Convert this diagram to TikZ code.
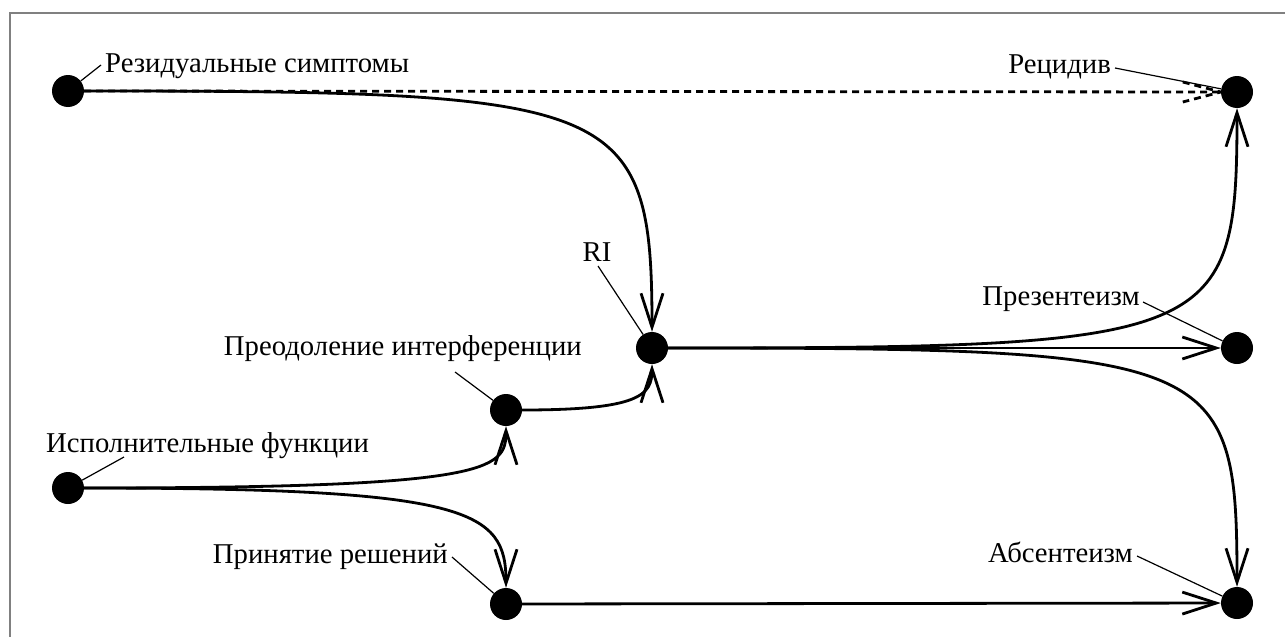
\documentclass[tikz,border=0pt]{standalone}
\usepackage{fontspec}
\setmainfont{Liberation Serif}
\usetikzlibrary{arrows.meta}
\begin{document}
\begin{tikzpicture}[x=1pt,y=-1pt,
  dot/.style={circle,fill=black,inner sep=0pt,minimum size=32pt},
  lbl/.style={font=\fontsize{28.7}{32}\selectfont,inner sep=0pt},
  pinline/.style={line width=1.2pt},
  conn/.style={line width=2.8pt,-{Straight Barb[length=34pt,width=22pt]}},
  frameline/.style={draw=gray,line width=2pt}
]
\useasboundingbox (0,0) rectangle (1285,637);
\draw[frameline] (10,637) -- (10,13) -- (1285,13);

% nodes
\node[dot] (R)   at (68,91) {};
\node[dot] (Rec) at (1237,92) {};
\node[dot] (RI)  at (652,348) {};
\node[dot] (Pr)  at (1237,348) {};
\node[dot] (P)   at (506,410) {};
\node[dot] (E)   at (68,488) {};
\node[dot] (D)   at (506,604) {};
\node[dot] (A)   at (1237,603) {};

% labels
\node[lbl,anchor=base west] (lR)   at (105,72)  {Резидуальные симптомы};
\node[lbl,anchor=base east] (lRec) at (1111,73) {Рецидив};
\node[lbl,anchor=base]      (lRI)  at (597,261) {RI};
\node[lbl,anchor=base east] (lPr)  at (1140,305) {Презентеизм};
\node[lbl,anchor=base east] (lP)   at (582,355) {Преодоление интерференции};
\node[lbl,anchor=base west] (lE)   at (46,452)  {Исполнительные функции};
\node[lbl,anchor=base east] (lD)   at (448,563) {Принятие решений};
\node[lbl,anchor=base east] (lA)   at (1133,562) {Абсентеизм};

% pin lines
\coordinate (pR)   at (101,65);
\coordinate (pRec) at (1115,68);
\coordinate (pRI)  at (598,266);
\coordinate (pPr)  at (1143,302);
\coordinate (pP)   at (455,372);
\coordinate (pE)   at (124,457);
\coordinate (pD)   at (452,557);
\coordinate (pA)   at (1137,556);
\draw[pinline] (pR) -- (R);
\draw[pinline] (pRec) -- (Rec);
\draw[pinline] (pRI) -- (RI);
\draw[pinline] (pPr) -- (Pr);
\draw[pinline] (pP) -- (P);
\draw[pinline] (pE) -- (E);
\draw[pinline] (pD) -- (D);
\draw[pinline] (pA) -- (A);

% dashed connector
\draw[line width=2.8pt,dash pattern=on 7pt off 5pt] (R) -- (Rec);
\draw[line width=2.8pt,dash pattern=on 7pt off 5pt]
  ([shift={(-38,-10)}]Rec.west) -- (Rec.west) -- ([shift={(-38,10)}]Rec.west);

% connectors
\draw[conn] (R) .. controls (620,91) and (652,100) .. (RI);
\draw[conn] (P) .. controls (640,410) and (652,395) .. (RI);
\draw[conn] (E) .. controls (490,488) and (506,470) .. (P);
\draw[conn] (E) .. controls (470,488) and (506,510) .. (D);
\draw[conn] (D) -- (A);
\draw[conn] (RI) .. controls (1220,348) and (1237,340) .. (Rec);
\draw[conn] (RI) -- (Pr);
\draw[conn] (RI) .. controls (1220,348) and (1237,356) .. (A);
\end{tikzpicture}
\end{document}
